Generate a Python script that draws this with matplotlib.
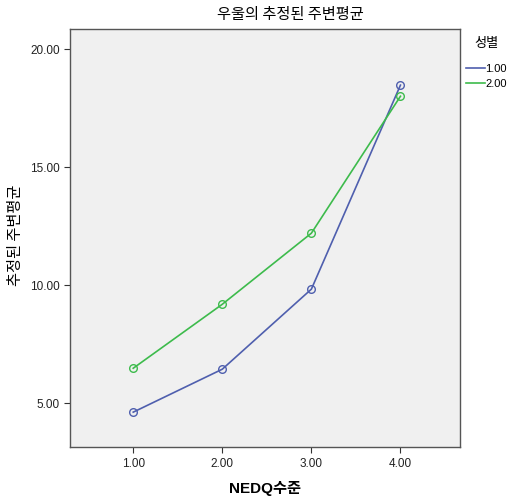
import matplotlib
matplotlib.use('Agg')
import matplotlib.pyplot as plt

plt.rcParams['font.family'] = ['Liberation Sans', 'Noto Sans CJK KR', 'DejaVu Sans']

nedq_levels = [1.0, 2.0, 3.0, 4.0]
group_labels = ['1.00', '2.00']
male_means = [4.62, 6.44, 9.83, 18.47]
female_means = [6.48, 9.19, 12.20, 18.00]
y_ticks = [5.0, 10.0, 15.0, 20.0]

colors = ['#4f5fae', '#3dbb4c']

fig = plt.figure(figsize=(5.09, 4.99), dpi=100)
ax = fig.add_axes([0.1375, 0.104, 0.7665, 0.838])
ax.set_facecolor('#f0f0f0')

for vals, lab, c in zip([male_means, female_means], group_labels, colors):
    ax.plot(nedq_levels, vals, color=c, linewidth=1.2, marker='o', markersize=5.5,
            markerfacecolor='none', markeredgecolor=c, markeredgewidth=1.0, label=lab)

ax.set_xlim(0.29, 4.67)
ax.set_ylim(3.14, 20.85)
ax.set_xticks(nedq_levels)
ax.set_xticklabels(['%.2f' % v for v in nedq_levels])
ax.set_yticks(y_ticks)
ax.set_yticklabels(['%.2f' % v for v in y_ticks])
ax.tick_params(labelsize=8.5, length=4, color='#333333', labelcolor='#222222')
for s in ax.spines.values():
    s.set_color('#555555')
    s.set_linewidth(1.0)

fig.text(290 / 509, 1 - 14 / 499, '우울의 추정된 주변평균', fontsize=11,
         ha='center', va='center', family=['Noto Sans CJK KR'])
ax.set_xlabel('NEDQ수준', fontsize=11, fontweight='bold', labelpad=8)
fig.text(16 / 509, 1 - 235 / 499, '추정된 주변평균', fontsize=11, rotation=90,
         ha='center', va='center', family=['Noto Sans CJK KR'])

leg = ax.legend(title='성별', loc='upper left', bbox_to_anchor=(0.995, 1.0),
                frameon=False, fontsize=8, title_fontsize=9.5, handlelength=1.7,
                handletextpad=0.05, borderaxespad=0.3, labelspacing=0.45)
leg.get_title().set_family(['Noto Sans CJK KR'])
leg._legend_box.sep = 10
for h in leg.legend_handles:
    h.set_marker('')

fig.savefig('out.png', dpi=100)
